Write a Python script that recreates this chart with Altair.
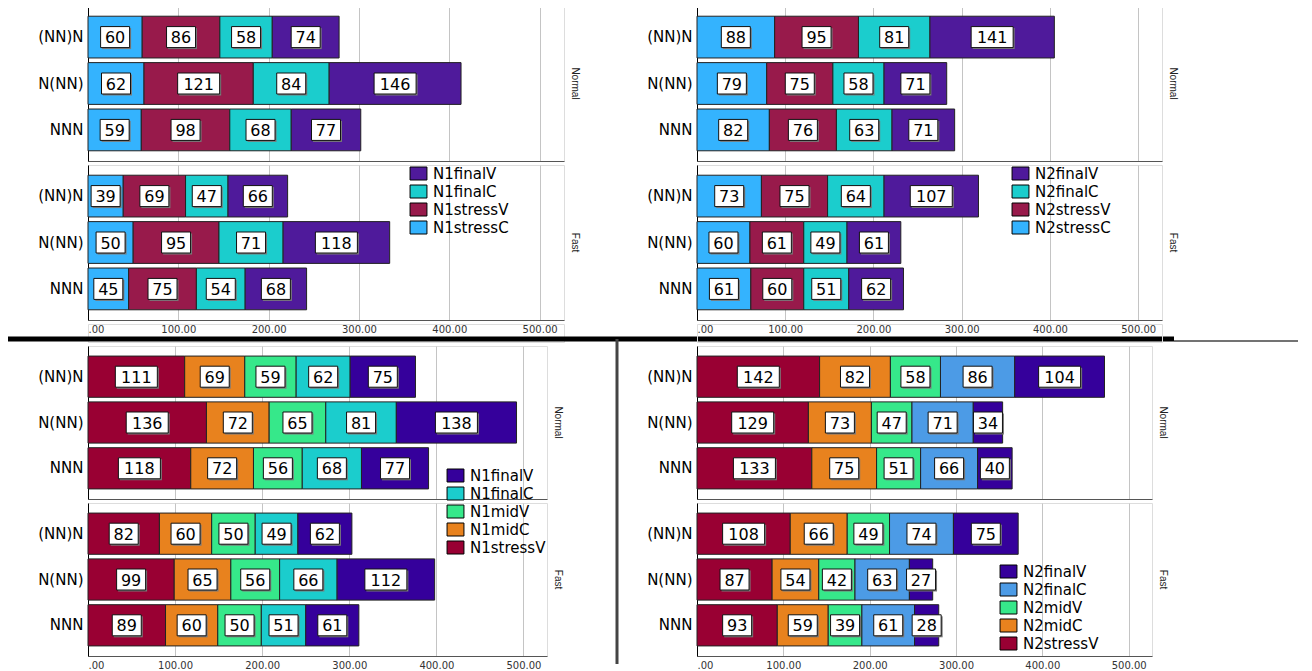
import altair as alt
import pandas as pd

ROWS = ["(NN)N", "N(NN)", "NNN"]

# ---- Top-left panel (N1, top) : stack order left->right
tl_parts = ["N1stressC", "N1stressV", "N1finalC", "N1finalV"]
tl_legend = ["N1finalV", "N1finalC", "N1stressV", "N1stressC"]
tl_colors = ["#4F1A9B", "#1BCDCD", "#981A4B", "#34B3FE"]
tl_normal = [[60, 86, 58, 74], [62, 121, 84, 146], [59, 98, 68, 77]]
tl_fast = [[39, 69, 47, 66], [50, 95, 71, 118], [45, 75, 54, 68]]

# ---- Top-right panel (N2, top)
tr_parts = ["N2stressC", "N2stressV", "N2finalC", "N2finalV"]
tr_legend = ["N2finalV", "N2finalC", "N2stressV", "N2stressC"]
tr_colors = ["#4F1A9B", "#1BCDCD", "#981A4B", "#34B3FE"]
tr_normal = [[88, 95, 81, 141], [79, 75, 58, 71], [82, 76, 63, 71]]
tr_fast = [[73, 75, 64, 107], [60, 61, 49, 61], [61, 60, 51, 62]]

# ---- Bottom-left panel (N1, bottom)
bl_parts = ["N1stressV", "N1midC", "N1midV", "N1finalC", "N1finalV"]
bl_legend = ["N1finalV", "N1finalC", "N1midV", "N1midC", "N1stressV"]
bl_colors = ["#35009B", "#1BCDCD", "#36E88A", "#E8821E", "#990033"]
bl_normal = [[111, 69, 59, 62, 75], [136, 72, 65, 81, 138], [118, 72, 56, 68, 77]]
bl_fast = [[82, 60, 50, 49, 62], [99, 65, 56, 66, 112], [89, 60, 50, 51, 61]]

# ---- Bottom-right panel (N2, bottom)
br_parts = ["N2stressV", "N2midC", "N2midV", "N2finalC", "N2finalV"]
br_legend = ["N2finalV", "N2finalC", "N2midV", "N2midC", "N2stressV"]
br_colors = ["#35009B", "#4C9BE6", "#36E88A", "#E8821E", "#990033"]
br_normal = [[142, 82, 58, 86, 104], [129, 73, 47, 71, 34], [133, 75, 51, 66, 40]]
br_fast = [[108, 66, 49, 74, 75], [87, 54, 42, 63, 27], [93, 59, 39, 61, 28]]

X_MAX = 527
TICKS = [0, 100, 200, 300, 400, 500]
FONT = "DejaVu Sans"

BOX2 = "M-2.9,-2.1H2.9V2.1H-2.9Z"
BOX3 = "M-4.2,-2.1H4.2V2.1H-4.2Z"
LEG_SYM = "M-1.3,-1H1.3V1H-1.3Z"


def build_df(parts, values):
    recs = []
    for r, vals in zip(ROWS, values):
        acc = 0
        for p, v in zip(parts, vals):
            recs.append(dict(row=r, part=p, value=v, start=acc, end=acc + v,
                             mid=acc + v / 2, digits=str(len(str(v)))))
            acc += v
    return pd.DataFrame(recs)


def unit(parts, values, legend_order, colors, width, height, speed,
         show_labels, legend_xy=None):
    df = build_df(parts, values)
    xscale = alt.Scale(domain=[0, X_MAX], nice=False, zero=True)
    yscale = alt.Scale(domain=ROWS, paddingInner=0.1, paddingOuter=0.22)
    if show_labels:
        xaxis = alt.Axis(values=TICKS, title=None, grid=True, gridColor="#c4c4c4",
                         ticks=False, labelFontSize=10, labelFont=FONT,
                         labelColor="#333333", labelPadding=4,
                         labelExpr="datum.value == 0 ? '.00' : format(datum.value, '.2f')",
                         domainColor="#555555")
    else:
        xaxis = alt.Axis(values=TICKS, title=None, grid=True, gridColor="#c4c4c4",
                         ticks=False, labels=False, domainColor="#555555")
    yaxis = alt.Axis(title=None, ticks=False, labelFontSize=15, labelFont=FONT,
                     labelColor="black", labelPadding=5, domainColor="black", grid=False)
    if legend_xy is not None:
        legend = alt.Legend(orient="none", legendX=legend_xy[0], legendY=legend_xy[1],
                            title=None, symbolType=LEG_SYM, symbolSize=169,
                            symbolStrokeColor="black", symbolStrokeWidth=1,
                            symbolOpacity=1, labelFontSize=15, labelFont=FONT,
                            labelColor="black", labelOffset=7, rowPadding=1,
                            padding=0)
    else:
        legend = None
    color = alt.Color("part:N", scale=alt.Scale(domain=legend_order, range=colors),
                      legend=legend)
    base = alt.Chart(df)
    bars = base.mark_bar(stroke="#222222", strokeWidth=1, opacity=1).encode(
        x=alt.X("start:Q", scale=xscale, axis=xaxis),
        x2="end:Q",
        y=alt.Y("row:N", scale=yscale, axis=yaxis, sort=ROWS),
        color=color,
    )
    shape = alt.Shape("digits:N", scale=alt.Scale(domain=["2", "3"], range=[BOX2, BOX3]),
                      legend=None)
    shadow = base.mark_point(filled=True, fill="#7a7a7a", strokeWidth=0, opacity=1,
                             size=100, xOffset=1.5, yOffset=1.5).encode(
        x="mid:Q", y=alt.Y("row:N", sort=ROWS), shape=shape)
    boxes = base.mark_point(filled=True, fill="white", stroke="#111111", strokeWidth=1,
                            opacity=1, size=100).encode(
        x="mid:Q", y=alt.Y("row:N", sort=ROWS), shape=shape)
    texts = base.mark_text(fontSize=16, font=FONT, color="black", baseline="middle",
                           align="center", dy=1).encode(
        x="mid:Q", y=alt.Y("row:N", sort=ROWS), text="value:Q")
    lab = alt.Chart(pd.DataFrame({"t": [speed]})).mark_text(
        angle=90, fontSize=10, font="Liberation Sans", color="#222222",
        baseline="middle", align="center").encode(
        text="t:N", x=alt.value(width + 11), y=alt.value(height / 2))
    return alt.layer(bars, shadow, boxes, texts, lab).properties(width=width, height=height)


one = pd.DataFrame({"a": [0]})


def spacer(width, height, extra=None):
    blank = alt.Chart(one).mark_text(text=" ").encode(x=alt.value(0), y=alt.value(0))
    layers = [blank] + (extra or [])
    return alt.layer(*layers).properties(width=width, height=height)


dividers = [
    alt.Chart(one).mark_rule(color="black", strokeWidth=5).encode(
        x=alt.value(-80), x2=alt.value(1086), y=alt.value(15)),
    alt.Chart(one).mark_rule(color="#444444", strokeWidth=1.5).encode(
        x=alt.value(1086), x2=alt.value(1210), y=alt.value(17)),
    alt.Chart(one).mark_rule(color="#444444", strokeWidth=3).encode(
        x=alt.value(529), y=alt.value(15), y2=alt.value(340)),
]

cells = [
    unit(tl_parts, tl_normal, tl_legend, tl_colors, 476, 155, "Normal", False),
    unit(tr_parts, tr_normal, tr_legend, tr_colors, 465, 155, "Normal", False),
    unit(tl_parts, tl_fast, tl_legend, tl_colors, 476, 155, "Fast", True, (323, 1)),
    unit(tr_parts, tr_fast, tr_legend, tr_colors, 465, 155, "Fast", True, (316, 1)),
    spacer(476, 18, dividers),
    spacer(465, 18),
    unit(bl_parts, bl_normal, bl_legend, bl_colors, 459, 153, "Normal", False),
    unit(br_parts, br_normal, br_legend, br_colors, 455, 153, "Normal", False),
    unit(bl_parts, bl_fast, bl_legend, bl_colors, 459, 153, "Fast", True, (360, -35)),
    unit(br_parts, br_fast, br_legend, br_colors, 455, 153, "Fast", True, (304, 61)),
]

chart = alt.concat(*cells, columns=2, spacing={"row": 4, "column": 133},
                   bounds="flush").resolve_scale(
    color="independent", shape="independent").resolve_legend(
    color="independent").properties(
    padding={"left": -3, "top": -3, "right": 0, "bottom": 0}
).configure_view(stroke=None).configure(font=FONT, background="white")

chart.save("out.html", embed_options={"renderer": "svg", "actions": False})
